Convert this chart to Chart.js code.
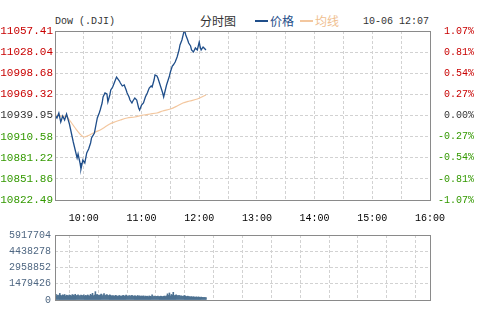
<!DOCTYPE html>
<html>
<head>
<meta charset="utf-8">
<script src="https://cdn.jsdelivr.net/npm/chart.js"></script>
<style>
  body { margin: 0; background: #fff; }
  #wrap { position: relative; width: 480px; height: 330px; overflow: hidden; background: #fff; }
  .hdr { position: absolute; top: 13px; line-height: 16px; white-space: nowrap; }
  .mono { font-family: 'Liberation Mono', monospace; font-size: 10px; color: #333; }
  .cjk { font-family: 'Noto Sans CJK SC', sans-serif; font-size: 12px; color: #333; }
  .key { position: absolute; top: 20px; width: 13px; height: 2px; }
  #main { position: absolute; left: 0; top: 0; }
  #vol { position: absolute; left: 0; top: 225px; }
</style>
</head>
<body>
<div id="wrap">
  <span class="hdr mono" style="left:55px;top:14px">Dow (.DJI)</span>
  <span class="hdr cjk" style="left:200px">分时图</span>
  <span class="key" style="left:255px;background:#1f4e8a"></span>
  <span class="hdr cjk" style="left:270px;color:#1f4e8a">价格</span>
  <span class="key" style="left:300px;background:#f3c79f"></span>
  <span class="hdr cjk" style="left:315px;color:#f0c090">均线</span>
  <span class="hdr mono" style="left:363px;top:14px">10-06 12:07</span>
  <canvas id="main" width="480" height="225"></canvas>
  <canvas id="vol" width="480" height="105"></canvas>
</div>
<script>
// minutes after 9:30 and index level at that minute
const priceMinutes = [0, 2, 4, 6, 8, 10, 12, 15, 17, 19, 21, 23, 24, 26, 27, 29, 31, 33, 35, 37,
  38, 41, 42, 44, 46, 47, 49, 50, 52, 54, 55, 57, 58, 60, 62, 64, 67, 68, 70, 72,
  74, 75, 77, 78, 80, 81, 83, 85, 87, 88, 90, 92, 94, 96, 98, 100, 101, 103, 104, 106,
  107, 109, 110, 112, 113, 115, 116, 119, 120, 122, 123, 125, 127, 129, 130, 132, 134, 135, 136, 138,
  139, 141, 142, 144, 146, 148, 149, 150, 151, 152, 154, 155, 157];
const priceValues = [10940.65, 10936.48, 10943.43, 10930.92, 10939.26, 10933.70, 10942.04, 10928.14, 10915.63, 10903.12,
  10892.00, 10880.88, 10886.44, 10873.93, 10865.59, 10878.10, 10873.93, 10887.83, 10893.39, 10901.73,
  10908.68, 10915.63, 10922.58, 10936.48, 10943.43, 10947.60, 10957.33, 10965.67, 10971.23, 10969.84,
  10958.72, 10968.45, 10975.40, 10979.57, 10986.52, 10993.47, 10987.91, 10985.13, 10980.96, 10982.35,
  10975.40, 10971.23, 10965.67, 10961.50, 10957.33, 10960.11, 10964.28, 10961.50, 10950.38, 10947.60,
  10954.55, 10957.33, 10965.67, 10971.23, 10978.18, 10980.96, 10979.57, 10989.30, 10996.25, 10994.86,
  10992.08, 10983.74, 10979.57, 10971.23, 10965.67, 10976.79, 10982.35, 10994.86, 11000.42, 11008.76,
  11010.15, 11014.32, 11021.27, 11031.00, 11037.95, 11044.90, 11056.02, 11057.41, 11051.85, 11044.90,
  11040.73, 11036.56, 11031.00, 11028.22, 11033.78, 11031.00, 11036.56, 11042.12, 11035.17, 11031.00,
  11035.17, 11033.78, 11031.00];

// running average line
const avgMinutes = [0, 4, 8, 12, 15, 21, 26, 30, 36, 42, 47, 52, 57, 62, 68, 75, 83, 92, 99, 106,
  112, 120, 127, 133, 140, 148, 157];
const avgValues = [10940.65, 10939.50, 10939.00, 10938.50, 10933.70, 10922.58, 10914.24, 10910.07, 10912.85, 10917.02,
  10919.80, 10923.97, 10928.14, 10930.92, 10933.70, 10936.48, 10937.87, 10940.65, 10942.04, 10943.43,
  10946.21, 10948.99, 10953.16, 10957.33, 10960.11, 10962.89, 10968.45];

// shares traded per minute, starting 9:30
const volumeValues = [1010000,
  520000, 380000, 450000, 410000, 600000, 430000, 380000, 470000, 420000, 500000, 360000, 440000, 410000, 390000,
  460000, 420000, 370000, 490000, 450000, 400000, 520000, 380000, 430000, 470000, 410000, 360000, 450000, 420000, 390000, 480000,
  350000, 420000, 380000, 460000, 400000, 370000, 520000, 430000, 610000, 390000, 450000, 760000, 480000, 500000, 440000,
  420000, 460000, 530000, 390000, 470000, 580000, 410000, 450000, 500000, 430000, 390000, 470000, 420000, 360000, 400000,
  380000, 350000, 420000, 390000, 330000, 370000, 410000, 360000, 340000, 390000, 420000, 350000, 380000, 440000, 360000,
  330000, 400000, 370000, 350000, 420000, 380000, 340000, 390000, 360000, 320000, 410000, 350000, 380000, 330000, 370000,
  340000, 380000, 310000, 360000, 330000, 350000, 300000, 370000, 340000, 320000, 480000, 310000, 350000, 330000, 300000,
  340000, 360000, 320000, 310000, 350000,
  330000, 300000, 340000, 360000, 320000, 380000, 560000, 420000, 640000, 380000, 500000, 450000, 700000, 390000, 430000,
  470000, 410000, 380000, 420000, 350000, 390000, 360000, 330000, 370000, 400000, 340000, 310000, 350000, 320000, 300000,
  280000, 310000, 260000, 300000, 270000, 250000, 290000, 240000, 280000, 260000, 230000, 270000, 250000, 220000, 240000,
  210000, 230000];

const prevClose = 10939.95;
const priceTicks = [10822.49, 10851.86, 10881.22, 10910.58, 10939.95, 10969.32, 10998.68, 11028.04, 11057.41];
const pctLabels = ['-1.07%', '-0.81%', '-0.54%', '-0.27%', '0.00%', '0.27%', '0.54%', '0.81%', '1.07%'];
const volTicks = [0, 1479426, 2958852, 4438278, 5917704];
const timeTicks = [30, 90, 150, 210, 270, 330, 390];
const timeLabels = ['10:00', '11:00', '12:00', '13:00', '14:00', '15:00', '16:00'];

const halfHours = [];
for (let m = 0; m <= 390; m += 30) halfHours.push(m);

const gridColor = '#d2d2d2';
const mono = 'Liberation Mono, monospace';

const framePlugin = {
  id: 'frame',
  afterDraw(chart) {
    const a = chart.chartArea, c = chart.ctx;
    c.save();
    c.strokeStyle = '#8a8a8a';
    c.lineWidth = 1;
    c.strokeRect(Math.round(a.left) + 0.5, Math.round(a.top) + 0.5,
      Math.round(a.right - a.left), Math.round(a.bottom - a.top));
    c.restore();
  }
};

function levelColor(v) {
  if (Math.abs(v - prevClose) < 0.005) return '#333333';
  return v > prevClose ? '#c80000' : '#339900';
}

const timeAxis = (showLabels, height) => ({
  type: 'linear',
  min: 0,
  max: 390,
  afterBuildTicks: s => { s.ticks = halfHours.map(v => ({ value: v })); },
  afterFit: s => { s.height = height; },
  grid: { color: gridColor, drawTicks: false },
  border: { display: false, dash: [3, 2] },
  ticks: {
    display: showLabels,
    autoSkip: false,
    maxRotation: 0,
    padding: 12,
    color: '#000',
    font: { family: mono, size: 10 },
    callback: v => {
      const i = timeTicks.indexOf(v);
      return i >= 0 ? timeLabels[i] : '';
    }
  }
});

new Chart(document.getElementById('main'), {
  type: 'line',
  data: {
    datasets: [
      {
        label: '价格',
        data: priceMinutes.map((m, i) => ({ x: m, y: priceValues[i] })),
        borderColor: '#1f4e8a',
        borderWidth: 1.3,
        pointRadius: 0,
        tension: 0,
        order: 0
      },
      {
        label: '均线',
        data: avgMinutes.map((m, i) => ({ x: m, y: avgValues[i] })),
        borderColor: '#f3c79f',
        borderWidth: 1.2,
        pointRadius: 0,
        tension: 0.3,
        order: 1
      }
    ]
  },
  options: {
    responsive: false,
    animation: false,
    layout: { padding: { top: 31, right: 6, left: 0, bottom: 0 } },
    plugins: { legend: { display: false }, tooltip: { enabled: false } },
    scales: {
      x: timeAxis(true, 25),
      y: {
        position: 'left',
        min: priceTicks[0],
        max: priceTicks[priceTicks.length - 1],
        afterBuildTicks: s => { s.ticks = priceTicks.map(v => ({ value: v })); },
        afterFit: s => { s.width = 55; },
        grid: { color: gridColor, drawTicks: false },
        border: { display: false, dash: [3, 2] },
        ticks: {
          padding: 2,
          font: { family: mono, size: 11 },
          color: ctx => levelColor(ctx.tick.value),
          callback: v => v.toFixed(2)
        }
      },
      pct: {
        position: 'right',
        min: priceTicks[0],
        max: priceTicks[priceTicks.length - 1],
        afterBuildTicks: s => { s.ticks = priceTicks.map(v => ({ value: v })); },
        afterFit: s => { s.width = 44; },
        grid: { display: false },
        border: { display: false },
        ticks: {
          crossAlign: 'far',
          font: { family: mono, size: 10 },
          color: ctx => levelColor(ctx.tick.value),
          callback: (v, i) => pctLabels[i]
        }
      }
    }
  },
  plugins: [framePlugin]
});

new Chart(document.getElementById('vol'), {
  type: 'bar',
  data: {
    datasets: [{
      data: volumeValues.map((v, i) => ({ x: i, y: v })),
      backgroundColor: '#4d7191',
      borderWidth: 0,
      barPercentage: 1,
      categoryPercentage: 1
    }]
  },
  options: {
    responsive: false,
    animation: false,
    layout: { padding: { top: 5, right: 50, left: 0, bottom: 0 } },
    plugins: { legend: { display: false }, tooltip: { enabled: false } },
    scales: {
      x: Object.assign(timeAxis(false, 30), { offset: false }),
      y: {
        min: 0,
        max: volTicks[volTicks.length - 1],
        afterBuildTicks: s => { s.ticks = volTicks.map(v => ({ value: v })); },
        afterFit: s => { s.width = 55; },
        grid: { color: gridColor, drawTicks: false },
        border: { display: false, dash: [3, 2] },
        ticks: {
          padding: 4,
          color: '#4f6782',
          font: { family: mono, size: 10 },
          callback: v => String(v)
        }
      }
    }
  },
  plugins: [framePlugin]
});
</script>
</body>
</html>
